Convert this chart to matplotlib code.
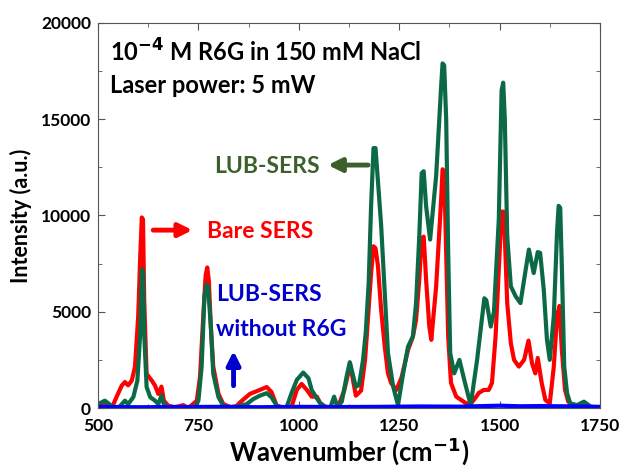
import numpy as np
import matplotlib.pyplot as plt
from matplotlib.ticker import MultipleLocator

# Espectros (numero de onda en cm-1, intensidad en u.a.)
bare_wn = [500, 510, 522, 535, 546, 559, 567, 575, 584, 592, 600, 605, 609, 612, 615,
           621, 634, 642, 650, 658, 664, 675, 690, 700, 712, 725, 746, 754, 762,
           768, 772, 776, 781, 787, 800, 812, 830, 845, 853, 878, 903, 920, 932, 945, 960,
           982, 995, 1007, 1020, 1032, 1045, 1053, 1065, 1082, 1098, 1113, 1128,
           1142, 1155, 1165, 1172, 1180, 1186, 1191, 1197, 1205, 1214, 1222, 1230, 1243,
           1256, 1272, 1284, 1292, 1300, 1306, 1311, 1317, 1325, 1330, 1342, 1354, 1358,
           1362, 1367, 1372, 1379, 1392, 1404, 1417, 1429, 1442, 1448, 1461, 1473, 1481,
           1490, 1498, 1505, 1509, 1513, 1519, 1528, 1536, 1548, 1561, 1572, 1581, 1589,
           1595, 1605, 1614, 1625, 1635, 1643, 1649, 1655, 1663, 1671, 1685, 1710,
           1735, 1750]
bare_int = [50, 100, 200, 30, 570, 1160, 1350, 1180, 1420, 2140, 4740, 7800, 9900, 9800, 5590,
            1770, 1420, 1160, 730, 1110, 380, 120, 50, 80, 150, 0, 380, 1620, 4740,
            6900, 7300, 6600, 4200, 2140, 730, 200, 50, 100, 280, 730, 940, 1090, 830, 120, 30,
            70, 940, 1250, 940, 590, 590, 260, 70, 30, 80, 900, 2250,
            640, 900, 2500, 4580, 7000, 8400, 8300, 7400, 5100, 3190, 1800, 1290, 940,
            1600, 3020, 3700, 4580, 6670, 8800, 8900, 6670, 4230, 3540, 6320, 10660, 12400,
            12300, 8060, 3700, 1300, 590, 420, 240, 240, 590, 780, 940, 940, 1300,
            3710, 7190, 10200, 10200, 8920, 5450, 3370, 2500, 2150, 2500, 3500, 2300, 1800,
            2600, 1280, 420, 240, 2150, 4760, 5300, 3020, 940, 330, 100, 150,
            0, 0]

lub_wn = [500, 517, 533, 545, 555, 567, 575, 588, 598, 605, 609, 612, 615, 621, 630,
          642, 650, 658, 664, 675, 700, 740, 750, 758, 765, 770, 774, 781, 787, 800,
          812, 830, 870, 887, 903, 920, 932, 945, 960, 970, 982, 995, 1011, 1024,
          1032, 1045, 1053, 1065, 1078, 1088, 1096, 1107, 1119, 1127, 1142, 1150,
          1160, 1167, 1174, 1180, 1186, 1191, 1197, 1205, 1214, 1222, 1235, 1247, 1260,
          1272, 1284, 1292, 1300, 1306, 1311, 1317, 1327, 1342, 1354, 1358, 1362, 1367, 1372,
          1377, 1387, 1400, 1412, 1428, 1444, 1462, 1467, 1478, 1486, 1498, 1505, 1509, 1513,
          1519, 1528, 1540, 1552, 1565, 1573, 1585, 1595, 1601, 1610, 1618, 1625,
          1635, 1643, 1647, 1651, 1655, 1661, 1668, 1676, 1693, 1710, 1727, 1743, 1750]
lub_int = [200, 380, 120, 0, 100, 380, 200, 570, 1420, 3850, 7200, 7100, 3850, 1090, 560,
           380, 200, 640, 200, 30, 0, 0, 380, 2140, 5800, 6400, 6300, 4220, 1770, 560,
           120, 0, 200, 470, 640, 770, 560, 120, 0, 70, 780, 1460, 1840, 1550,
           940, 500, 260, 70, 0, 590, 50, 330, 1630, 2380, 1100, 1200,
           2500, 4000, 6500, 10500, 13500, 13500, 11800, 9500, 5990, 2860, 1110, 150, 1820,
           3190, 3710, 5450, 8920, 12200, 12300, 10480, 8750, 12050, 16560, 17900, 17800, 15000, 8060,
           2850, 1800, 2500, 1460, 150, 2500, 5700, 5600, 4230, 5000, 9790, 16500, 16900, 15000,
           8920, 6320, 5800, 5450, 7190, 8230, 7010, 8100, 8060, 6150, 3540, 2500,
           4760, 9100, 10500, 10400, 7360, 2150, 770, 240, 150, 330, 70, 0, 0]

blank_wn = [500, 600, 700, 800, 900, 1000, 1100, 1200, 1300, 1400, 1500, 1550,
            1600, 1700, 1750]
blank_int = [60, 40, 50, 60, 40, 60, 50, 60, 80, 70, 120, 90, 100, 80, 60]

fig = plt.figure(figsize=(6.22, 4.68), dpi=100)
ax = fig.add_axes([0.1576, 0.1282, 0.8070, 0.8227])

ax.plot(bare_wn, bare_int, color='#ff0000', lw=3, solid_joinstyle='round')
ax.plot(lub_wn, lub_int, color='#0b6a45', lw=3, solid_joinstyle='round')
ax.plot(blank_wn, blank_int, color='#0000ff', lw=3)

ax.set_xlim(500, 1750)
ax.set_ylim(0, 20000)
ax.xaxis.set_major_locator(MultipleLocator(250))
ax.xaxis.set_minor_locator(MultipleLocator(125))
ax.yaxis.set_major_locator(MultipleLocator(5000))
ax.yaxis.set_minor_locator(MultipleLocator(2500))
ax.tick_params(which='both', direction='in', top=True, right=True, color='#555555')
ax.tick_params(which='major', length=5, labelsize=12.5)
ax.tick_params(axis='x', which='major', pad=7)
ax.tick_params(axis='y', which='major', pad=5)
ax.tick_params(which='minor', length=3)
for lab in ax.get_xticklabels() + ax.get_yticklabels():
    lab.set_fontweight('bold')
    lab.set_family('Lato')
for s in ax.spines.values():
    s.set_color('#555555')

ax.set_xlabel('Wavenumber (cm$^{\\mathbf{-1}}$)', fontsize=18.5, fontweight='bold',
              family='Lato', labelpad=1)
ax.set_ylabel('Intensity (a.u.)', fontsize=15.5, fontweight='bold', family='Lato',
              labelpad=6)

tf = ax.transAxes
ax.text(0.024, 0.899, '10$^{\\mathbf{-4}}$ M R6G in 150 mM NaCl', transform=tf,
        fontsize=17, fontweight='bold', family='Lato', va='baseline')
ax.text(0.024, 0.818, 'Laser power: 5 mW', transform=tf,
        fontsize=17, fontweight='bold', family='Lato', va='baseline')

ax.text(0.232, 0.610, 'LUB-SERS', transform=tf, color='#3d5f2b',
        fontsize=16.5, fontweight='bold', family='Lato', va='baseline')
ax.annotate('', xy=(0.458, 0.631), xytext=(0.538, 0.631), xycoords=tf,
            arrowprops=dict(arrowstyle='-|>', lw=3.5, color='#3d5f2b',
                            mutation_scale=20, shrinkA=0, shrinkB=0))

ax.text(0.217, 0.442, 'Bare SERS', transform=tf, color='#ff0000',
        fontsize=16.5, fontweight='bold', family='Lato', va='baseline')
ax.annotate('', xy=(0.188, 0.462), xytext=(0.110, 0.462), xycoords=tf,
            arrowprops=dict(arrowstyle='-|>', lw=3.5, color='#ff0000',
                            mutation_scale=20, shrinkA=0, shrinkB=0))

ax.text(0.235, 0.279, 'LUB-SERS', transform=tf, color='#0000cc',
        fontsize=16.5, fontweight='bold', family='Lato', va='baseline')
ax.text(0.235, 0.188, 'without R6G', transform=tf, color='#0000cc',
        fontsize=16.5, fontweight='bold', family='Lato', va='baseline')
ax.annotate('', xy=(0.270, 0.148), xytext=(0.270, 0.058), xycoords=tf,
            arrowprops=dict(arrowstyle='-|>', lw=3.5, color='#0000cc',
                            mutation_scale=20, shrinkA=0, shrinkB=0))

plt.savefig('out.png', dpi=100)
